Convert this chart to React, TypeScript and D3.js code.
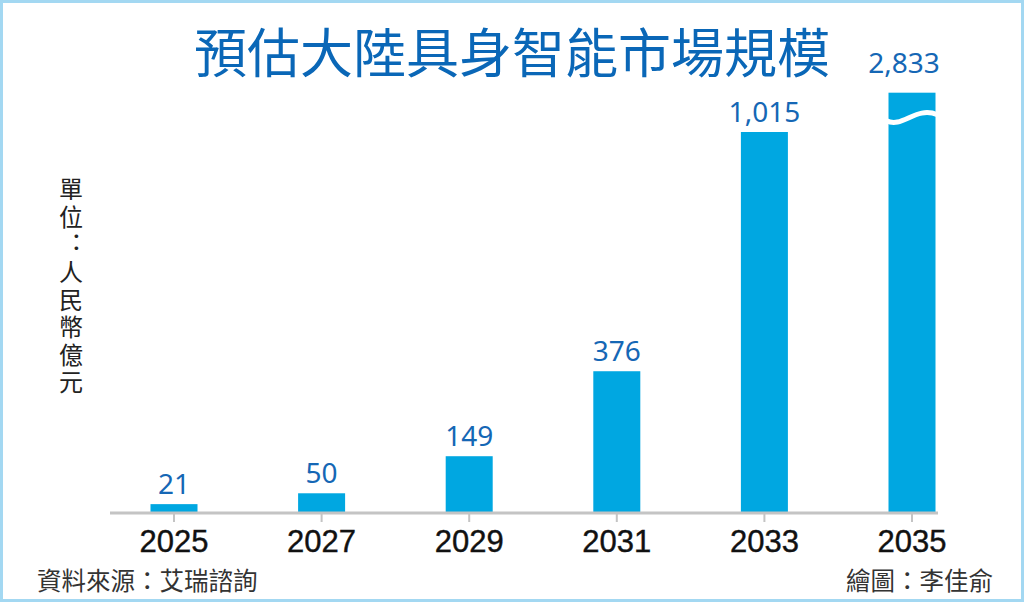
import React from "react";
import * as d3 from "d3";

// Chart values.
const years: string[] = ["2025", "2027", "2029", "2031", "2033", "2035"];
const marketSize: number[] = [21, 50, 149, 376, 1015, 2833];
const valueLabels: string[] = ["21", "50", "149", "376", "1,015", "2,833"];

// Bars above this value are drawn broken (capped) in the picture.
const breakValue = 1120;

const titleText = "預估大陸具身智能市場規模";
const unitText = "單位：人民幣億元";
const sourceText = "資料來源：艾瑞諮詢";
const creditText = "繪圖：李佳俞";

const WIDTH = 1024;
const HEIGHT = 602;
const BASELINE = 512;
const BAR_WIDTH = 47;

const barColor = "#00a7e1";
const labelColor = "#1567b5";
const titleColor = "#0a67b7";
const cjkFont = "'Noto Sans CJK TC', 'Noto Sans CJK SC', sans-serif";

export default function App(): React.ReactElement {
    const x = d3.scalePoint<string>().domain(years).range([174, 912]);
    const y = d3.scaleLinear().domain([0, 1015]).range([BASELINE, 132]);

    const bars = years.map((year, i) => {
        const value = marketSize[i];
        const broken = value > breakValue;
        const top = y(broken ? breakValue : value);
        return { year, value, label: valueLabels[i], broken, top, cx: x(year) as number };
    });

    return (
        <svg
            width={WIDTH}
            height={HEIGHT}
            style={{ position: "absolute", left: 0, top: 0, display: "block", background: "#fff" }}
        >
            <rect x={1.5} y={1.5} width={WIDTH - 3} height={HEIGHT - 3} fill="#fff" stroke="#a3d8f2" strokeWidth={3} />

            <text
                x={512}
                y={73}
                textAnchor="middle"
                fontFamily={cjkFont}
                fontSize={53}
                fontWeight={400}
                fill={titleColor}
            >
                {titleText}
            </text>

            {/* unit label, written top to bottom */}
            <text
                x={71}
                y={177}
                fontFamily={cjkFont}
                fontSize={24}
                fill="#222"
                letterSpacing={3.6}
                style={{ writingMode: "vertical-rl", textOrientation: "upright", fontFeatureSettings: '"vert" 0' }}
            >
                {unitText}
            </text>

            {/* bars */}
            <g>
                {bars.map((b) => (
                    <rect
                        key={b.year}
                        x={b.cx - BAR_WIDTH / 2}
                        y={b.top}
                        width={BAR_WIDTH}
                        height={BASELINE - b.top}
                        fill={barColor}
                    />
                ))}
                {bars.filter((b) => b.broken).map((b) => {
                    const l = b.cx - BAR_WIDTH / 2 - 2;
                    const r = b.cx + BAR_WIDTH / 2 + 2;
                    const cy = b.top + 25;
                    const p = d3.path();
                    p.moveTo(l, cy + 3);
                    p.bezierCurveTo(l + 16, cy + 11, r - 22, cy - 12, r, cy - 3);
                    return (
                        <path key={"w" + b.year} d={p.toString()} fill="none" stroke="#fff" strokeWidth={5} />
                    );
                })}
            </g>

            {/* axis */}
            <line x1={110} x2={938} y1={BASELINE + 1} y2={BASELINE + 1} stroke="#c4c4c4" strokeWidth={3} />
            {bars.map((b) => (
                <line key={"t" + b.year} x1={b.cx} x2={b.cx} y1={BASELINE + 2} y2={BASELINE + 10} stroke="#c4c4c4" strokeWidth={2} />
            ))}
            <g
                fontFamily="'Liberation Sans', Arial, sans-serif"
                fontSize={31}
                fill="#111"
                stroke="#111"
                strokeWidth={0.4}
                textAnchor="middle"
            >
                {bars.map((b) => (
                    <text key={"y" + b.year} x={b.cx} y={552}>{b.year}</text>
                ))}
            </g>

            {/* value labels */}
            <g fontFamily="'Noto Sans', sans-serif" fontSize={28} fill={labelColor} textAnchor="middle">
                {bars.map((b) => (
                    <text key={"v" + b.year} x={b.broken ? b.cx - 8 : b.cx} y={b.top - (b.broken ? 20 : 10)}>{b.label}</text>
                ))}
            </g>

            {/* footer */}
            <text x={37} y={590} fontFamily={cjkFont} fontSize={24.5} fill="#333">{sourceText}</text>
            <text x={993} y={590} textAnchor="end" fontFamily={cjkFont} fontSize={24.5} fill="#333">{creditText}</text>
        </svg>
    );
}
